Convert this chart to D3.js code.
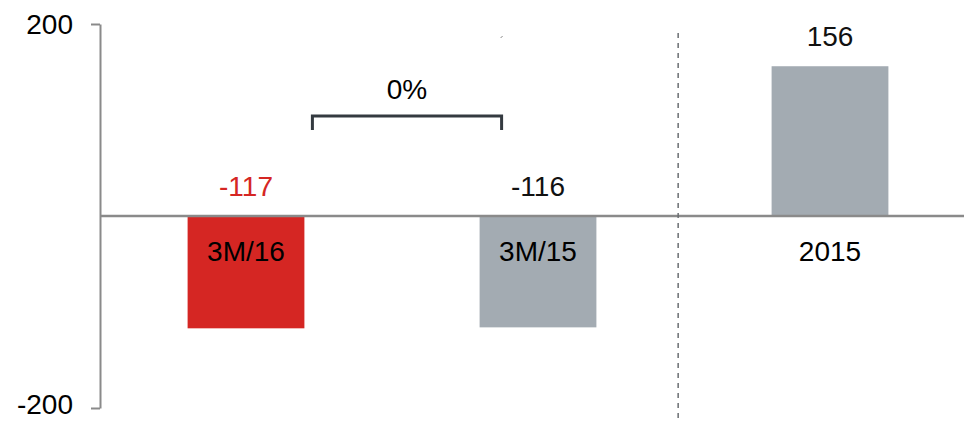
<!DOCTYPE html>
<html>
<head>
<meta charset="utf-8">
<script src="https://cdn.jsdelivr.net/npm/d3@7"></script>
<style>
  html, body { margin: 0; padding: 0; background: #fff; }
  svg { display: block; font-family: Arial, "Liberation Sans", sans-serif; }
</style>
</head>
<body>
<svg id="chart" width="964" height="421"></svg>
<script>
// Periods and their results
const categories = ["3M/16", "3M/15", "2015"];
const values = [-117, -116, 156];
const valueLabels = ["-117", "-116", "156"];
const barColors = ["#d52623", "#a3abb2", "#a3abb2"];
const labelColors = ["#d52623", "#111111", "#111111"];
const yTicks = [-200, 200];
const changeLabel = "0%";

const FONT = 28;
const svg = d3.select("#chart");

const y = d3.scaleLinear().domain([-200, 200]).range([408, 24]);
const x = d3.scaleBand().domain(categories).range([100, 976])
  .paddingInner(0.6).paddingOuter(0.3);

// Y axis: line with left ticks
const yAxis = d3.axisLeft(y).tickValues(yTicks).tickSize(9).tickSizeOuter(0)
  .tickFormat(d => String(d));
const gy = svg.append("g").attr("transform", "translate(100,0)").call(yAxis);
gy.select(".domain").attr("stroke", "#8a8a8a").attr("stroke-width", 2);
gy.selectAll(".tick line").attr("stroke", "#8a8a8a").attr("stroke-width", 2);
// keep the bottom label's descent inside the canvas
gy.selectAll(".tick text").attr("font-size", FONT).attr("fill", "#000")
  .attr("x", -27).attr("dy", d => d < 0 ? "0.2em" : "0.34em");

// Bars
svg.selectAll("rect.bar").data(values).join("rect")
  .attr("class", "bar")
  .attr("x", (d, i) => x(categories[i]))
  .attr("width", x.bandwidth())
  .attr("y", d => y(Math.max(0, d)))
  .attr("height", d => Math.abs(y(d) - y(0)))
  .attr("fill", (d, i) => barColors[i]);

// Zero baseline
svg.append("line")
  .attr("x1", 100).attr("x2", 964)
  .attr("y1", y(0)).attr("y2", y(0))
  .attr("stroke", "#8a8a8a").attr("stroke-width", 2.5);

// Separator between quarter and full-year figures
const sepX = x("2015") - 0.32 * x.step();
svg.append("line")
  .attr("x1", sepX).attr("x2", sepX)
  .attr("y1", 33).attr("y2", 419)
  .attr("stroke", "#6b6e72").attr("stroke-width", 1.5)
  .attr("stroke-dasharray", "5,5");

// Value labels
svg.selectAll("text.val").data(values).join("text")
  .attr("class", "val")
  .attr("x", (d, i) => x(categories[i]) + x.bandwidth() / 2)
  .attr("y", d => d < 0 ? y(0) - 20 : y(d) - 20)
  .attr("text-anchor", "middle")
  .attr("font-size", FONT)
  .attr("fill", (d, i) => labelColors[i])
  .text((d, i) => valueLabels[i]);

// Category labels below the baseline
svg.selectAll("text.cat").data(categories).join("text")
  .attr("class", "cat")
  .attr("x", d => x(d) + x.bandwidth() / 2)
  .attr("y", y(0) + 45)
  .attr("text-anchor", "middle")
  .attr("font-size", FONT)
  .attr("fill", "#000")
  .text(d => d);

// Change bracket between the two quarters
const bx1 = x(categories[0]) + x.bandwidth() + 8;
const bx2 = x(categories[1]) + 22;
svg.append("path")
  .attr("d", `M${bx1},130 V116 H${bx2} V130`)
  .attr("fill", "none").attr("stroke", "#343a40").attr("stroke-width", 3);
svg.append("text")
  .attr("x", (bx1 + bx2) / 2).attr("y", 99)
  .attr("text-anchor", "middle").attr("font-size", FONT).attr("fill", "#000")
  .text(changeLabel);

// Small stray tick near the top
svg.append("line")
  .attr("x1", bx2 - 1).attr("x2", bx2 + 1).attr("y1", 38).attr("y2", 36)
  .attr("stroke", "#888").attr("stroke-width", 1);
</script>
</body>
</html>
